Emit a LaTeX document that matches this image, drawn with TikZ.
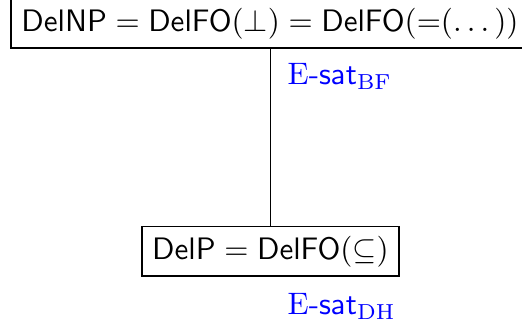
\documentclass[tikz,border=0pt]{standalone}
\usepackage{amsmath}
\begin{document}
\begin{tikzpicture}[x=0.322pt,y=-0.322pt,
  classbox/.style={draw, line width=0.4pt, inner xsep=3.33pt, inner ysep=2.9pt},
  reduction/.style={text=blue, anchor=base west, inner sep=0pt}]
  \useasboundingbox (0,0) rectangle (522,329);
  \clip (0,0) rectangle (522,329);
  \node[classbox] (np) at (270,23.5)
    {$\mathsf{DelNP} = \mathsf{DelFO}(\bot) = \mathsf{DelFO}({=}(\dots))$};
  \node[classbox] (p) at (270.5,251.4)
    {$\mathsf{DelP} = \mathsf{DelFO}(\subseteq)$};
  \draw[line width=0.4pt] (np.south -| p.north) -- (p.north);
  \node[reduction] (bf) at (287,85) {$\mathrm{E}\text{-}\mathsf{sat}_{\mathrm{BF}}$};
  \node[reduction] (dh) at (287,315) {$\mathrm{E}\text{-}\mathsf{sat}_{\mathrm{DH}}$};
\end{tikzpicture}
\end{document}
